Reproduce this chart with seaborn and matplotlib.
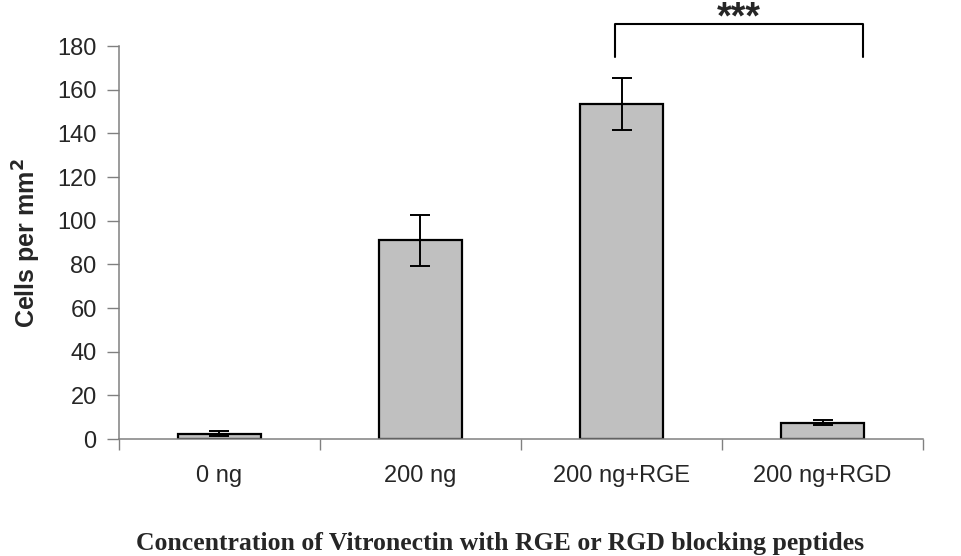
import matplotlib
matplotlib.use("Agg")
import matplotlib.pyplot as plt
import seaborn as sns
import pandas as pd
import numpy as np

# Cell adhesion on vitronectin with blocking peptides
categories = ["0 ng", "200 ng", "200 ng+RGE", "200 ng+RGD"]
cells_per_mm2 = [2.5, 91, 153.5, 7.5]
sem = [1.3, 11.5, 12, 1.3]
y_ticks = [0, 20, 40, 60, 80, 100, 120, 140, 160, 180]

df = pd.DataFrame({"condition": categories, "cells": cells_per_mm2})

sns.set_theme(style="white")
plt.rcParams["font.family"] = ["Liberation Sans", "DejaVu Sans"]

fig = plt.figure(figsize=(9.61, 5.56), dpi=100)
ax = fig.add_axes([0.1238, 0.2104, 0.9605 - 0.1238, 0.917 - 0.2104])

sns.barplot(data=df, x="condition", y="cells", color="#C0C0C0",
            edgecolor="black", linewidth=1.6, width=0.41,
            errorbar=None, saturation=1, ax=ax)
ax.errorbar(np.arange(len(categories)), cells_per_mm2,
            yerr=sem, fmt="none", ecolor="black", elinewidth=1.4,
            capsize=7, capthick=1.4, zorder=5)

ax.set_xlim(-0.5, len(categories) - 0.5)
ax.set_ylim(0, 180)
ax.set_yticks(y_ticks)
ax.tick_params(axis="y", labelsize=17, direction="out", length=9,
               width=1, color="#808080", pad=7, left=True)
ax.set_xticks(np.arange(len(categories)))
ax.set_xticklabels(categories, fontsize=17)
ax.tick_params(axis="x", which="major", length=0, pad=19)
ax.set_xticks(np.arange(-0.5, len(categories)), minor=True)
ax.tick_params(axis="x", which="minor", direction="out", length=8,
               width=1, color="#808080", bottom=True)

for side in ["top", "right"]:
    ax.spines[side].set_visible(False)
for side in ["left", "bottom"]:
    ax.spines[side].set_color("#808080")
    ax.spines[side].set_linewidth(1.1)

ax.set_xlabel("")
ax.set_ylabel("Cells per mm$^\\mathbf{2}$", fontsize=18, fontweight="bold",
              labelpad=10)

# Significance bracket between RGE and RGD groups
bx = [1.97, 1.97, 3.2, 3.2]
by = [175, 190, 190, 175]
ax.plot(bx, by, color="black", linewidth=1.5, clip_on=False)
ax.text((1.97 + 3.2) / 2, 188.3, "***", ha="center", va="baseline",
        fontsize=27, fontweight="bold", clip_on=False)

fig.text(0.52, 1 - 550 / 556, "Concentration of Vitronectin with RGE or RGD blocking peptides",
         ha="center", va="baseline", fontsize=18.5, fontweight="bold",
         family=["Liberation Serif", "DejaVu Serif"])

fig.savefig("out.png", dpi=100, facecolor="white")
